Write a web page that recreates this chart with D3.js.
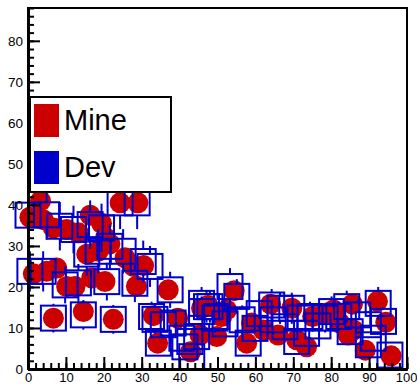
<!DOCTYPE html>
<html><head><meta charset="utf-8">
<script src="https://cdn.jsdelivr.net/npm/d3@7"></script>
<style>
html,body{margin:0;padding:0;background:#fff;}
svg{display:block;font-family:"Liberation Sans",Arial,Helvetica,sans-serif;}
</style></head>
<body>
<svg id="chart" width="417" height="385"></svg>
<script>
// ---- data ----
const mineX = [0.5,3.3,4,6.7,10.2,13.3,16.4,19.4,20.5,21.6,15.5,18.5,24.3,29,
  1.4,4.9,7.6,10.2,12.4,16.8,20.3,25.6,27.8,30.5,28.6,37,
  6.7,14.6,22.5,33.1,34.2,39.5,42.9,45.4,45.8,47.5,49.8,51.1,52.4,54.4,57.7,59,62.1,64,66,69.6,70.9,73.5,75.1,78.4,80.6,82.3,84.5,85.6,85.8,89,92.2,94.4,95.8];
const mineY = [37,41,36.4,34.4,34,33.2,37.5,35.5,32,30.5,28,28.7,40.5,40.5,
  23.2,23.8,24.6,20.1,20.1,22.2,21.3,27.1,25,25.2,20.2,19.3,
  12.4,14,12.1,13,6.3,12.4,4.2,8.3,14.8,15.5,7.9,12.8,14.4,19.1,6.3,11.2,9.5,15.8,8.3,14.8,7.1,5.4,12.8,13.6,14.4,11.2,8.3,15.8,9.5,4.6,16.5,11.4,3.2];

const devX = [0,4.9,8.4,12,16.4,19.4,21.6,25.1,24.3,28.8,0.5,4,9.8,13.3,20.8,28.2,30.4,32.2,37.5,
  6.7,14.6,22.5,33.5,32.6,35.7,34.4,38.3,40.6,41.4,42.7,43.2,44.5,45.8,45.8,48,49.8,53.3,55.1,47.1,49.3,
  58.1,59.9,64.3,64.7,67.8,70.9,71.8,74.4,73.5,78.4,80.1,84.1,85,89.8,92.4,93.8,95.5,89.8,91.1,15.5,18.5,69.6,
  61,66.5,76.5,82,87,56.5,52];
const devY = [37.5,37.6,34.8,34,35.2,34.4,29.9,28.7,40.5,40.5,23.8,23.8,20.5,21,21.3,20.9,26.2,25,19.3,
  12.4,13.2,12.1,12.1,12.8,10.8,6.3,11.2,7.5,5.4,6.7,3,7.9,16,14,15.2,12.8,20.1,17.7,15.2,12.4,
  6.3,9.9,15.6,12,10.3,6.7,12.4,12.8,8.7,12.4,14,15.2,9.1,5.9,16,11.6,3.4,10.8,7.5,28,28.7,14.8,
  13.5,14.8,10.5,12.8,13.2,12,11];
const devErr = [6.1,6.1,5.9,5.8,5.9,5.9,5.5,5.4,6.4,6.4,4.9,4.9,4.5,4.6,4.6,4.6,5.1,5,4.4,
  3.5,3.6,3.5,3.5,3.6,3.3,2.5,3.3,2.7,2.3,2.6,1.7,2.8,4,3.7,3.9,3.6,4.5,4.2,3.9,3.5,
  2.5,3.1,3.9,3.5,3.2,2.6,3.5,3.6,2.9,3.5,3.7,3.9,3,2.4,4,3.4,1.8,3.3,2.7,5.3,5.4,3.8,
  3.7,3.8,3.2,3.6,3.6,3.5,3.3];

const xTicks = [0,10,20,30,40,50,60,70,80,90,100];
const yTicks = [0,10,20,30,40,50,60,70,80];
const legendLabels = ["Mine","Dev"];
const colors = {Mine:"#cc0000", Dev:"#0000cc"};

// ---- layout ----
const L = 28, R = 407, T = 8, B = 369;
const svg = d3.select("#chart");
const x = d3.scaleLinear().domain([0,100]).range([L,R]);
const y = d3.scaleLinear().domain([0,88]).range([B,T]);

svg.append("rect").attr("x",L).attr("y",T).attr("width",R-L).attr("height",B-T)
  .attr("fill","#fff").attr("stroke","#000").attr("stroke-width",2);

const plot = svg.append("g");

plot.selectAll("circle.mine").data(d3.range(mineX.length)).join("circle")
  .attr("class","mine")
  .attr("cx",i=>x(mineX[i])).attr("cy",i=>y(mineY[i])).attr("r",10.5)
  .attr("fill",colors.Mine);

const hs = 12.5;
const dev = plot.selectAll("g.dev").data(d3.range(devX.length)).join("g").attr("class","dev");
dev.each(function(i){
  const g = d3.select(this);
  const cx = x(devX[i]), cy = y(devY[i]);
  const top = y(devY[i]+devErr[i]), bot = y(Math.max(0,devY[i]-devErr[i]));
  if (top < cy-hs) g.append("line").attr("x1",cx).attr("x2",cx).attr("y1",top).attr("y2",cy-hs);
  if (bot > cy+hs) g.append("line").attr("x1",cx).attr("x2",cx).attr("y1",cy+hs).attr("y2",bot);
  g.append("rect").attr("x",cx-hs).attr("y",cy-hs).attr("width",2*hs).attr("height",2*hs).attr("fill","none");
});
dev.selectAll("line,rect").attr("stroke",colors.Dev).attr("stroke-width",2);

const minorX = d3.axisBottom(x).tickValues(d3.range(0,101,2)).tickSize(-6).tickSizeOuter(0).tickFormat("");
const minorY = d3.axisLeft(y).tickValues(d3.range(0,89,2)).tickSize(-6).tickSizeOuter(0).tickFormat("");
svg.append("g").attr("transform",`translate(0,${B})`).call(minorX);
svg.append("g").attr("transform",`translate(${L},0)`).call(minorY);
const gx = svg.append("g").attr("transform",`translate(0,${B})`)
  .call(d3.axisBottom(x).tickValues(xTicks).tickSize(-12).tickSizeOuter(0).tickPadding(4));
const gy = svg.append("g").attr("transform",`translate(${L},0)`)
  .call(d3.axisLeft(y).tickValues(yTicks).tickSize(-12).tickSizeOuter(0).tickPadding(5));
svg.selectAll(".tick line").attr("stroke","#000").attr("stroke-width",2);
svg.selectAll(".domain").attr("stroke","#000").attr("stroke-width",3);
svg.selectAll(".tick text").attr("font-size",13.5).attr("fill","#000")
  .attr("font-family","'Liberation Sans',Arial,sans-serif");
gx.selectAll(".tick text").attr("font-size",13)
  .filter(d=>d===100).attr("text-anchor","end").attr("dx",10);

const lg = svg.append("g");
lg.append("rect").attr("x",30).attr("y",97).attr("width",141).attr("height",95)
  .attr("fill","#fff").attr("stroke","#000").attr("stroke-width",2);
legendLabels.forEach((lab,k)=>{
  const y0 = 104 + k*47;
  lg.append("rect").attr("x",34).attr("y",y0).attr("width",25).attr("height",33).attr("fill",colors[lab]);
  lg.append("text").attr("x",64).attr("y",y0+26).attr("font-size",29).attr("fill","#000").text(lab);
});
</script>
</body></html>
